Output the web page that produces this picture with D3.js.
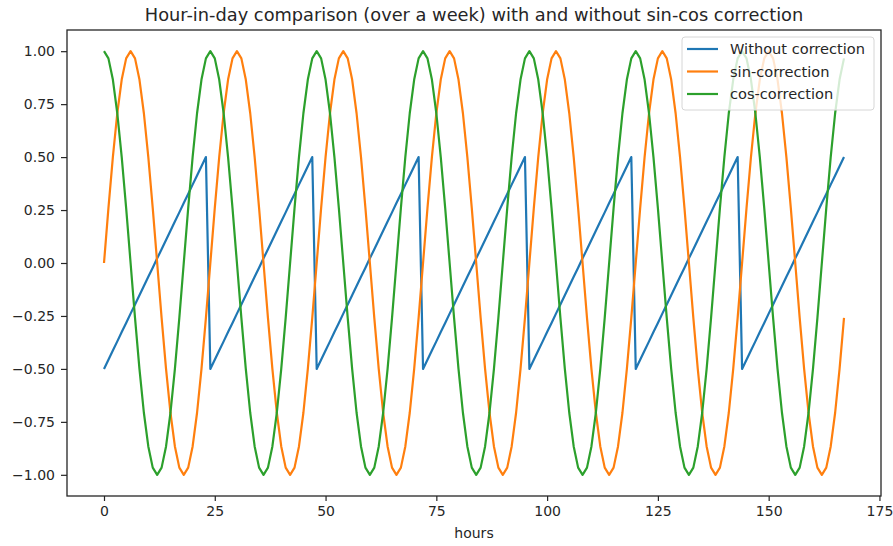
<!DOCTYPE html>
<html>
<head>
<meta charset="utf-8">
<script src="https://cdn.jsdelivr.net/npm/d3@7"></script>
<style>
  html, body { margin: 0; padding: 0; background: #fff; }
  svg { display: block; font-family: "DejaVu Sans", sans-serif; }
</style>
</head>
<body>
<svg id="chart" width="893" height="546"></svg>
<script>
// Hour-of-day encodings for one week of hourly samples (hours 0..167)
const withoutCorrection = [
  -0.5,-0.457,-0.413,-0.370,-0.326,-0.283,-0.239,-0.196,-0.152,-0.109,-0.065,-0.022,0.022,0.065,0.109,0.152,0.196,0.239,0.283,0.326,0.370,0.413,0.457,0.5,
  -0.5,-0.457,-0.413,-0.370,-0.326,-0.283,-0.239,-0.196,-0.152,-0.109,-0.065,-0.022,0.022,0.065,0.109,0.152,0.196,0.239,0.283,0.326,0.370,0.413,0.457,0.5,
  -0.5,-0.457,-0.413,-0.370,-0.326,-0.283,-0.239,-0.196,-0.152,-0.109,-0.065,-0.022,0.022,0.065,0.109,0.152,0.196,0.239,0.283,0.326,0.370,0.413,0.457,0.5,
  -0.5,-0.457,-0.413,-0.370,-0.326,-0.283,-0.239,-0.196,-0.152,-0.109,-0.065,-0.022,0.022,0.065,0.109,0.152,0.196,0.239,0.283,0.326,0.370,0.413,0.457,0.5,
  -0.5,-0.457,-0.413,-0.370,-0.326,-0.283,-0.239,-0.196,-0.152,-0.109,-0.065,-0.022,0.022,0.065,0.109,0.152,0.196,0.239,0.283,0.326,0.370,0.413,0.457,0.5,
  -0.5,-0.457,-0.413,-0.370,-0.326,-0.283,-0.239,-0.196,-0.152,-0.109,-0.065,-0.022,0.022,0.065,0.109,0.152,0.196,0.239,0.283,0.326,0.370,0.413,0.457,0.5,
  -0.5,-0.457,-0.413,-0.370,-0.326,-0.283,-0.239,-0.196,-0.152,-0.109,-0.065,-0.022,0.022,0.065,0.109,0.152,0.196,0.239,0.283,0.326,0.370,0.413,0.457,0.5
];
const sinCorrection = [
  0,0.259,0.5,0.707,0.866,0.966,1,0.966,0.866,0.707,0.5,0.259,0,-0.259,-0.5,-0.707,-0.866,-0.966,-1,-0.966,-0.866,-0.707,-0.5,-0.259,
  0,0.259,0.5,0.707,0.866,0.966,1,0.966,0.866,0.707,0.5,0.259,0,-0.259,-0.5,-0.707,-0.866,-0.966,-1,-0.966,-0.866,-0.707,-0.5,-0.259,
  0,0.259,0.5,0.707,0.866,0.966,1,0.966,0.866,0.707,0.5,0.259,0,-0.259,-0.5,-0.707,-0.866,-0.966,-1,-0.966,-0.866,-0.707,-0.5,-0.259,
  0,0.259,0.5,0.707,0.866,0.966,1,0.966,0.866,0.707,0.5,0.259,0,-0.259,-0.5,-0.707,-0.866,-0.966,-1,-0.966,-0.866,-0.707,-0.5,-0.259,
  0,0.259,0.5,0.707,0.866,0.966,1,0.966,0.866,0.707,0.5,0.259,0,-0.259,-0.5,-0.707,-0.866,-0.966,-1,-0.966,-0.866,-0.707,-0.5,-0.259,
  0,0.259,0.5,0.707,0.866,0.966,1,0.966,0.866,0.707,0.5,0.259,0,-0.259,-0.5,-0.707,-0.866,-0.966,-1,-0.966,-0.866,-0.707,-0.5,-0.259,
  0,0.259,0.5,0.707,0.866,0.966,1,0.966,0.866,0.707,0.5,0.259,0,-0.259,-0.5,-0.707,-0.866,-0.966,-1,-0.966,-0.866,-0.707,-0.5,-0.259
];
const cosCorrection = [
  1,0.966,0.866,0.707,0.5,0.259,0,-0.259,-0.5,-0.707,-0.866,-0.966,-1,-0.966,-0.866,-0.707,-0.5,-0.259,0,0.259,0.5,0.707,0.866,0.966,
  1,0.966,0.866,0.707,0.5,0.259,0,-0.259,-0.5,-0.707,-0.866,-0.966,-1,-0.966,-0.866,-0.707,-0.5,-0.259,0,0.259,0.5,0.707,0.866,0.966,
  1,0.966,0.866,0.707,0.5,0.259,0,-0.259,-0.5,-0.707,-0.866,-0.966,-1,-0.966,-0.866,-0.707,-0.5,-0.259,0,0.259,0.5,0.707,0.866,0.966,
  1,0.966,0.866,0.707,0.5,0.259,0,-0.259,-0.5,-0.707,-0.866,-0.966,-1,-0.966,-0.866,-0.707,-0.5,-0.259,0,0.259,0.5,0.707,0.866,0.966,
  1,0.966,0.866,0.707,0.5,0.259,0,-0.259,-0.5,-0.707,-0.866,-0.966,-1,-0.966,-0.866,-0.707,-0.5,-0.259,0,0.259,0.5,0.707,0.866,0.966,
  1,0.966,0.866,0.707,0.5,0.259,0,-0.259,-0.5,-0.707,-0.866,-0.966,-1,-0.966,-0.866,-0.707,-0.5,-0.259,0,0.259,0.5,0.707,0.866,0.966,
  1,0.966,0.866,0.707,0.5,0.259,0,-0.259,-0.5,-0.707,-0.866,-0.966,-1,-0.966,-0.866,-0.707,-0.5,-0.259,0,0.259,0.5,0.707,0.866,0.966
];
const hours = d3.range(withoutCorrection.length);

const seriesNames = ["Without correction", "sin-correction", "cos-correction"];
const seriesColors = ["#1f77b4", "#ff7f0e", "#2ca02c"];
const xTicks = [0, 25, 50, 75, 100, 125, 150, 175];
const yTicks = [-1.0, -0.75, -0.5, -0.25, 0, 0.25, 0.5, 0.75, 1.0];
const titleText = "Hour-in-day comparison (over a week) with and without sin-cos correction";
const xLabel = "hours";

const series = [withoutCorrection, sinCorrection, cosCorrection];

const svg = d3.select("#chart");
const plot = { left: 67, right: 881, top: 30, bottom: 496 };

// 5% padding around the data extent on both axes
const xPad = (hours.length - 1) * 0.05;
const x = d3.scaleLinear()
  .domain([-xPad, hours.length - 1 + xPad])
  .range([plot.left, plot.right]);
const y = d3.scaleLinear()
  .domain([-1.1, 1.1])
  .range([plot.bottom, plot.top]);

const textColor = "#262626";

// Lines
const line = d3.line().x((d, i) => x(hours[i])).y(d => y(d));
svg.append("g")
  .selectAll("path")
  .data(series)
  .join("path")
  .attr("d", line)
  .attr("fill", "none")
  .attr("stroke", (d, i) => seriesColors[i])
  .attr("stroke-width", 2.2)
  .attr("stroke-linejoin", "round");

// Axes
const xAxis = svg.append("g")
  .attr("transform", `translate(0,${plot.bottom})`)
  .call(d3.axisBottom(x).tickValues(xTicks).tickFormat(d3.format("d")).tickSize(5).tickPadding(5));
const yAxis = svg.append("g")
  .attr("transform", `translate(${plot.left},0)`)
  .call(d3.axisLeft(y).tickValues(yTicks).tickFormat(d => d3.format(".2f")(d).replace("-", "\u2212")).tickSize(6).tickPadding(6));
[xAxis, yAxis].forEach(a => {
  a.select(".domain").remove();
  a.selectAll("line").attr("stroke", textColor).attr("stroke-width", 1.2);
  a.selectAll("text").attr("fill", textColor).style("font-size", "14px").style("font-family", "DejaVu Sans");
});

// Frame
svg.append("rect")
  .attr("x", plot.left).attr("y", plot.top)
  .attr("width", plot.right - plot.left).attr("height", plot.bottom - plot.top)
  .attr("fill", "none").attr("stroke", textColor).attr("stroke-width", 1.3);

// Title and axis label
svg.append("text")
  .attr("x", (plot.left + plot.right) / 2).attr("y", 21)
  .attr("text-anchor", "middle")
  .attr("fill", textColor)
  .style("font-size", "17.8px")
  .text(titleText);
svg.append("text")
  .attr("x", (plot.left + plot.right) / 2).attr("y", 538)
  .attr("text-anchor", "middle")
  .attr("fill", textColor)
  .style("font-size", "14px")
  .text(xLabel);

// Legend
const legend = svg.append("g").attr("transform", "translate(682,37)");
legend.append("rect")
  .attr("width", 192).attr("height", 73).attr("rx", 3)
  .attr("fill", "#fff").attr("fill-opacity", 0.8)
  .attr("stroke", "#d6d6d6");
const items = legend.selectAll("g.item")
  .data(seriesNames)
  .join("g")
  .attr("class", "item")
  .attr("transform", (d, i) => `translate(0,${12 + i * 22.5})`);
items.append("line")
  .attr("x1", 5).attr("x2", 36)
  .attr("stroke", (d, i) => seriesColors[i])
  .attr("stroke-width", 2.2);
items.append("text")
  .attr("x", 48).attr("dy", "0.35em")
  .attr("fill", textColor)
  .style("font-size", "14.6px")
  .text(d => d);
</script>
</body>
</html>
